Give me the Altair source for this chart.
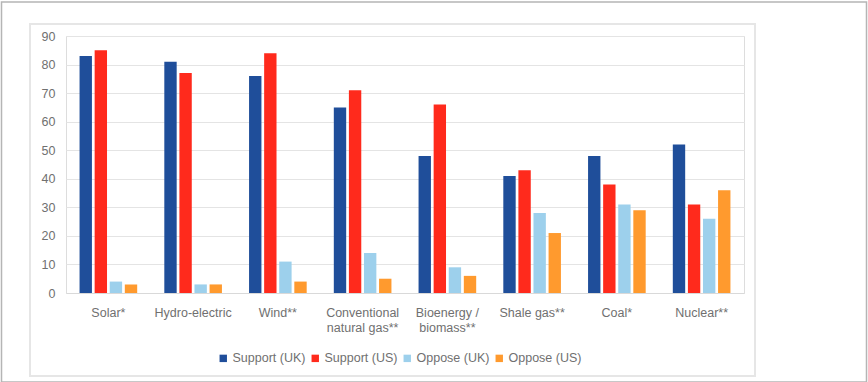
import altair as alt
import pandas as pd

categories = ["Solar*", "Hydro-electric", "Wind**", "Conventional|natural gas**",
              "Bioenergy /|biomass**", "Shale gas**", "Coal*", "Nuclear**"]
series = ["Support (UK)", "Support (US)", "Oppose (UK)", "Oppose (US)"]
support_uk = [83, 81, 76, 65, 48, 41, 48, 52]
support_us = [85, 77, 84, 71, 66, 43, 38, 31]
oppose_uk = [4, 3, 11, 14, 9, 28, 31, 26]
oppose_us = [3, 3, 4, 5, 6, 21, 29, 36]
colors = ["#1F4E9A", "#FF2A1C", "#9DD0EC", "#FF9A2E"]

rows = []
for i, c in enumerate(categories):
    for s, vals in zip(series, [support_uk, support_us, oppose_uk, oppose_us]):
        rows.append({"category": c, "series": s, "value": vals[i]})
df = pd.DataFrame(rows)

FONT = "Liberation Sans"
TXT = "#707070"

bars = alt.Chart(df).mark_bar().encode(
    x=alt.X("category:N", sort=categories,
            scale=alt.Scale(paddingInner=0.32, paddingOuter=0.16),
            axis=alt.Axis(title=None, labelAngle=0, ticks=False, domain=True,
                          domainColor="#d9d9d9", labelColor=TXT,
                          labelFontSize=12.5, labelFont=FONT, labelPadding=13,
                          labelLineHeight=15.5,
                          labelExpr="split(datum.value, '|')")),
    xOffset=alt.XOffset("series:N", sort=series,
                        scale=alt.Scale(paddingInner=0.18)),
    y=alt.Y("value:Q", scale=alt.Scale(domain=[0, 90]),
            axis=alt.Axis(title=None, values=list(range(0, 100, 10)),
                          ticks=False, domain=False, gridColor="#e4e4e4",
                          labelColor=TXT, labelFontSize=12.5,
                          labelFont=FONT, labelPadding=11)),
    color=alt.Color("series:N", sort=series,
                    scale=alt.Scale(domain=series, range=colors),
                    legend=alt.Legend(title=None, orient="none", direction="horizontal",
                                      legendX=151, legendY=316,
                                      symbolType="square", symbolSize=55,
                                      symbolStrokeWidth=0,
                                      labelFontSize=12.5, labelFont=FONT,
                                      labelColor=TXT, columnPadding=3,
                                      labelOffset=3)),
)

frame_df = pd.DataFrame({"k": [0]})
outer = alt.Chart(frame_df).mark_rect(fillOpacity=0, stroke="#b5b5b5", strokeWidth=1.5).encode(
    x=alt.value(-64.5), x2=alt.value(800.5), y=alt.value(-34), y2=alt.value(346))
inner = alt.Chart(frame_df).mark_rect(fillOpacity=0, stroke="#e6e6e6", strokeWidth=2).encode(
    x=alt.value(-36), x2=alt.value(689), y=alt.value(-12), y2=alt.value(340))

chart = alt.layer(outer, inner, bars).properties(
    width=678, height=257,
    autosize=alt.AutoSizeParams(type="none"),
    padding={"left": 66, "top": 36, "right": 124, "bottom": 89},
).configure_view(stroke=None).configure(background="white")

chart.save("out.html", embed_options={"renderer": "svg", "actions": False})
